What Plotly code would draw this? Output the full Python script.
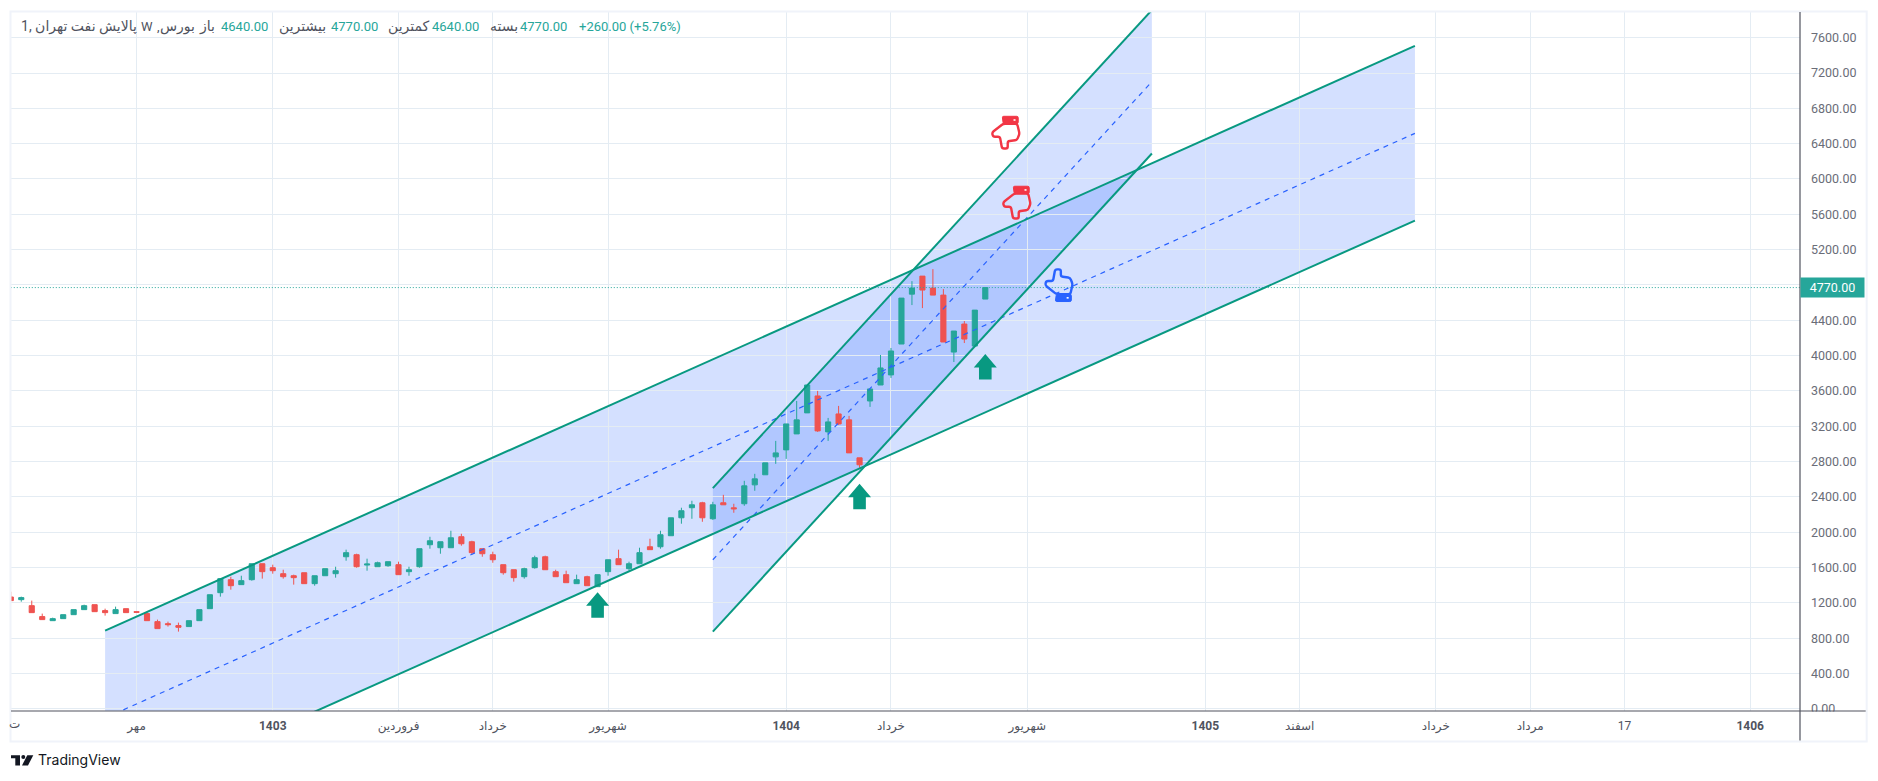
import plotly.graph_objects as go

# weekly candles, bar index on x
open_ = [1266,1236,1168,1044,998,1021,1066,1123,1179,1112,1078,1134,1100,1078,987,964,942,931,998,1134,
         1315,1462,1406,1462,1643,1598,1530,1507,1541,1417,1507,1530,1722,1745,1628,1609,1620,1632,1553,1609,
         1858,1824,1824,1949,1892,1813,1745,1632,1575,1496,1598,1722,1553,1519,1417,1496,1383,1553,1700,1587,
         1643,1835,1835,1960,2163,2277,2333,2152,2333,2276,2322,2536,2650,2853,2932,3113,3351,3543,3136,3339,
         3272,2842,3486,3667,3781,4131,4696,4900,4764,4685,4040,4357,4108,4640]
high = [1326,1270,1225,1078,1032,1066,1123,1179,1179,1134,1157,1134,1100,1100,1010,987,976,998,1123,1292,
        1474,1496,1507,1643,1643,1632,1575,1519,1541,1507,1587,1609,1802,1756,1700,1666,1666,1666,1609,1813,
        1948,1892,2016,1982,1903,1813,1779,1632,1575,1598,1734,1734,1575,1564,1519,1507,1519,1688,1802,1666,
        1824,1926,2016,2163,2277,2356,2344,2344,2423,2322,2582,2661,2785,3034,3226,3486,3667,3600,3294,3430,
        3317,2842,3622,4007,4086,4651,4843,4900,4979,4753,4278,4391,4515,4770]
low = [1225,1213,1089,1010,998,1021,1066,1123,1100,1055,1078,1089,1093,998,908,931,874,931,998,1134,
       1270,1349,1406,1451,1474,1530,1474,1406,1417,1394,1507,1485,1677,1598,1564,1609,1609,1519,1507,1598,
       1813,1756,1824,1847,1745,1722,1654,1519,1440,1474,1587,1575,1496,1428,1417,1394,1383,1507,1632,1564,
       1643,1802,1813,1960,2096,2152,2118,2140,2310,2220,2299,2469,2650,2774,2830,3113,3351,3136,3034,3215,
       2898,2729,3419,3667,3747,4131,4572,4538,4685,4154,3927,4142,4108,4640]
close = [1225,1259,1089,1010,1021,1066,1123,1168,1100,1089,1123,1089,1093,998,908,953,923,998,1123,1292,
         1474,1394,1451,1643,1553,1564,1496,1485,1417,1507,1587,1564,1768,1609,1639,1654,1666,1519,1575,1813,
         1903,1892,1937,1869,1768,1756,1688,1541,1485,1587,1711,1575,1496,1428,1462,1394,1519,1688,1632,1643,
         1768,1802,1971,2163,2243,2310,2163,2310,2310,2265,2525,2604,2785,2898,3226,3272,3667,3147,3249,3226,
         2898,2763,3622,3860,4052,4651,4764,4742,4685,4154,4278,4187,4515,4770]

tick_idx = [12, 25, 37, 46, 57, 74, 84, 97, 114, 123, 136, 145, 154, 166]
tick_txt = ["مهر", "<b>1403</b>", "فروردین", "خرداد", "شهریور", "<b>1404</b>", "خرداد", "شهریور",
            "<b>1405</b>", "اسفند", "خرداد", "مرداد", "17", "<b>1406</b>"]
price_ticks = [i * 400 for i in range(20)]

# channels: x ends, then upper / middle / lower prices at those ends
wide_x = [9, 134]
wide_upper = [885, 7507]
wide_mid = [-104, 6517]
wide_lower = [-1092, 5529]
steep_x = [67, 108.9]
steep_upper = [2499, 7913]
steep_mid = [1688, 7102]
steep_lower = [874, 6288]

arrow_idx = [56, 81, 93]
arrow_price = [1319, 2548, 4018]
hand_red_idx = [94.93, 95.98]
hand_red_price = [6532, 5740]
hand_blue_idx = [100]
hand_blue_price = [4790]

last_price = 4770
# text, left edge in px, colour, size
legend_parts = [
    ("پالایش نفت تهران ,1", 20, "#50535e", 14), ("W", 140, "#50535e", 13), (",", 156, "#50535e", 13),
    ("بورس", 159, "#50535e", 14), ("باز", 198, "#50535e", 14), ("4640.00", 220, "#26a69a", 13),
    ("بیشترین", 278, "#50535e", 14), ("4770.00", 330, "#26a69a", 13),
    ("کمترین", 387, "#50535e", 14), ("4640.00", 431, "#26a69a", 13),
    ("بسته", 489, "#50535e", 14), ("4770.00", 519, "#26a69a", 13),
    ("+260.00 (+5.76%)", 578, "#26a69a", 13),
]

GREEN = "#26a69a"
RED = "#ef5350"
TEAL = "#089981"
BLUE = "#2962ff"
FILL = "rgba(41,98,255,0.2)"
GRID = "#e4ecf3"
FONT = "Roboto, DejaVu Sans, sans-serif"

# plot box in screen pixels
L, R, T, B = 11, 1800.3, 11.5, 711.5
W, H = 1878, 781


def xp(px):
    return (px - L) / (R - L)


def yp(py):
    return (B - py) / (B - T)


def band(x, top, bottom):
    return f"M {x[0]},{top[0]} L {x[1]},{top[1]} L {x[1]},{bottom[1]} L {x[0]},{bottom[0]} Z"


def pix_shape(path, x, y, **kw):
    return dict(type="path", path=path, xref="x", yref="y", xsizemode="pixel", ysizemode="pixel",
                xanchor=x, yanchor=y, **kw)


def poly(points):
    return "M " + " L ".join(f"{a},{b}" for a, b in points) + " Z"


def rounded(points, r=2.0):
    # closed path, each corner cut back by r and eased with a curve
    n = len(points)
    path = ""
    for i in range(n):
        px, py = points[i - 1]
        cx, cy = points[i]
        nx, ny = points[(i + 1) % n]
        d1 = max(((cx - px) ** 2 + (cy - py) ** 2) ** 0.5, 0.01)
        d2 = max(((nx - cx) ** 2 + (ny - cy) ** 2) ** 0.5, 0.01)
        r1 = min(r, d1 / 2)
        r2 = min(r, d2 / 2)
        a = (cx + (px - cx) * r1 / d1, cy + (py - cy) * r1 / d1)
        b = (cx + (nx - cx) * r2 / d2, cy + (ny - cy) * r2 / d2)
        path += ("M " if i == 0 else " L ") + f"{a[0]},{a[1]} Q {cx},{cy} {b[0]},{b[1]}"
    return path + " Z"


fig = go.Figure()
fig.add_trace(go.Candlestick(x=list(range(len(open_))), open=open_, high=high, low=low, close=close,
                             increasing=dict(line=dict(color=GREEN, width=1), fillcolor=GREEN),
                             decreasing=dict(line=dict(color=RED, width=1), fillcolor=RED),
                             whiskerwidth=0))
for x, y, color, width, dash in [
    ([0, 171], [last_price, last_price], GREEN, 1, "1px,2px"),
    (wide_x, wide_mid, BLUE, 1.2, "5px,5px"), (steep_x, steep_mid, BLUE, 1.2, "5px,5px"),
    (wide_x, wide_upper, TEAL, 2, "solid"), (wide_x, wide_lower, TEAL, 2, "solid"),
    (steep_x, steep_upper, TEAL, 2, "solid"), (steep_x, steep_lower, TEAL, 2, "solid"),
]:
    fig.add_trace(go.Scatter(x=x, y=y, mode="lines", line=dict(color=color, width=width, dash=dash)))

shapes = [
    dict(type="path", path=band(wide_x, wide_upper, wide_lower), xref="x", yref="y",
         fillcolor=FILL, line_width=0, layer="below"),
    dict(type="path", path=band(steep_x, steep_upper, steep_lower), xref="x", yref="y",
         fillcolor=FILL, line_width=0, layer="below"),
]

arrow = poly([(0, 0), (11.5, -13.5), (6.3, -13.5), (6.3, -25.5), (-6.3, -25.5), (-6.3, -13.5), (-11.5, -13.5)])
for i, p in zip(arrow_idx, arrow_price):
    shapes.append(pix_shape(arrow, i, p, fillcolor=TEAL, line_width=0))

# hand icon outline, pointing down; flip=-1 turns it up
hand_pts = [(-2.3, 8.3), (-13.5, -0.5), (-12.5, -4.8), (-5.6, -4.8), (-3.5, -16.5), (2.2, -16.5), (2.2, -9.3),
            (11.5, -8), (14, -1.7), (11.7, 8.3)]
cuff_pts = [(-3.3, 15.7), (12.7, 15.7), (12.7, 8.3), (-2.3, 8.3)]
dot_pts = [(8, 12.8), (10, 12.8), (10, 11.2), (8, 11.2)]


def add_hand(i, p, color, flip):
    def f(pts):
        return [(a, flip * b) for a, b in pts]
    shapes.append(pix_shape(rounded(f(hand_pts)), i, p, line=dict(color=color, width=2.4)))
    shapes.append(pix_shape(rounded(f(cuff_pts), 1.5), i, p, fillcolor=color, line=dict(color=color, width=1)))
    shapes.append(pix_shape(poly(f(dot_pts)), i, p, fillcolor="white", line_width=0))


for i, p in zip(hand_red_idx, hand_red_price):
    add_hand(i, p, "#f23645", 1)
for i, p in zip(hand_blue_idx, hand_blue_price):
    add_hand(i, p, BLUE, -1)

# chrome around the chart, in pixels
shapes += [
    dict(type="rect", xref="paper", yref="paper", x0=xp(1801), x1=xp(1866), y0=yp(741), y1=yp(712),
         fillcolor="white", line_width=0),
    dict(type="rect", xref="paper", yref="paper", x0=xp(10.5), x1=xp(1867), y0=yp(742), y1=yp(11),
         line=dict(color="#f0f3fa", width=2)),
    dict(type="line", xref="paper", yref="paper", x0=xp(11), x1=xp(1866), y0=yp(711.5), y1=yp(711.5),
         line=dict(color="#50535e", width=1.2)),
    dict(type="line", xref="paper", yref="paper", x0=xp(1800.3), x1=xp(1800.3), y0=yp(741), y1=yp(11.5),
         line=dict(color="#50535e", width=1.2)),
]
# TradingView logo
logo_parts = [
    [(11, 755.7), (20, 755.7), (20, 766), (15.3, 766), (15.3, 758.7), (11, 758.7)],
    [(33.3, 755.7), (27.3, 755.7), (22, 766), (28, 766)],
]
for part in logo_parts:
    shapes.append(dict(type="path", xref="paper", yref="paper", fillcolor="#131722", line_width=0,
                       path=poly([(xp(a), yp(b)) for a, b in part])))
shapes.append(dict(type="circle", xref="paper", yref="paper", x0=xp(21.3), x1=xp(25.3), y0=yp(759.5), y1=yp(755.5),
                   fillcolor="#131722", line_width=0))

annotations = []
for text, px, color, size in legend_parts:
    annotations.append(dict(text=text, xref="paper", yref="paper", x=xp(px), y=yp(26), xanchor="left",
                            yanchor="middle", showarrow=False, borderpad=0,
                            font=dict(family=FONT, size=size, color=color)))
annotations += [
    dict(text=f"{last_price:.2f}", xref="paper", yref="y", x=xp(1800.5), y=last_price, xanchor="left",
         yanchor="middle", showarrow=False, bgcolor=GREEN, width=63, height=19, borderpad=0,
         font=dict(family=FONT, size=12.5, color="white")),
    dict(text="ت", xref="paper", yref="paper", x=xp(15), y=yp(725), xanchor="center", yanchor="middle",
         showarrow=False, font=dict(family=FONT, size=12, color="#50535e")),
    dict(text="TradingView", xref="paper", yref="paper", x=xp(36.5), y=yp(760), xanchor="left", yanchor="middle",
         showarrow=False, font=dict(family="Inter, " + FONT, size=14, color="#131722")),
]

fig.update_layout(
    width=W, height=H, margin=dict(l=L, r=W - R, t=T, b=H - B),
    paper_bgcolor="white", plot_bgcolor="white", showlegend=False, boxgap=0.3,
    shapes=shapes, annotations=annotations,
    xaxis=dict(range=[0.02, 170.75], rangeslider_visible=False, tickmode="array", tickvals=tick_idx,
               ticktext=tick_txt, showgrid=True, gridcolor=GRID, gridwidth=1, zeroline=False, ticks="",
               ticklabelstandoff=6, tickfont=dict(family=FONT, size=12, color="#50535e")),
    yaxis=dict(range=[-25, 7891], side="right", tickmode="array", tickvals=price_ticks, tickformat=".2f",
               showgrid=True, gridcolor=GRID, gridwidth=1, zeroline=False, ticks="", ticklabelstandoff=10,
               tickfont=dict(family=FONT, size=12.5, color="#6a6d78")),
)

fig.write_html("out.html", config=dict(displayModeBar=False), post_script="document.body.style.margin='0';")
